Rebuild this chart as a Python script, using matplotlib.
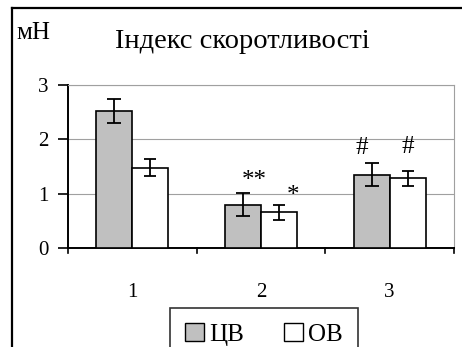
import matplotlib
matplotlib.use("Agg")
import matplotlib.pyplot as plt
import numpy as np
from matplotlib.lines import Line2D
from matplotlib.patches import Patch

plt.rcParams['font.family'] = ['Liberation Serif', 'DejaVu Serif']

categories = ["1", "2", "3"]
cv_values = [2.52, 0.80, 1.35]
cv_errors = [0.22, 0.21, 0.21]
ov_values = [1.48, 0.66, 1.28]
ov_errors = [0.15, 0.14, 0.13]
cv_marks = ["", "**", "#"]
ov_marks = ["", "*", "#"]
series_names = ["ЦВ", "ОВ"]
title = "Індекс скоротливості"
unit = "мН"

W, H = 462, 347
fig = plt.figure(figsize=(W / 100, H / 100), dpi=100)
ax = fig.add_axes([68 / W, 1 - 248 / H, (454 - 68) / W, (248 - 85) / H])

x = np.arange(len(categories))
bw = 0.28
ax.bar(x - bw / 2, cv_values, bw, color="#c0c0c0", edgecolor="black", linewidth=1.2, zorder=3,
       yerr=cv_errors, error_kw=dict(ecolor="black", elinewidth=1.3, capsize=5, capthick=1.3))
ax.bar(x + bw / 2, ov_values, bw, color="white", edgecolor="black", linewidth=1.2, zorder=3,
       yerr=ov_errors, error_kw=dict(ecolor="black", elinewidth=1.3, capsize=4, capthick=1.3))

# annotation offsets (x in category units, y in data units above the error bar)
cv_off = {"**": (0.085, 0.23), "#": (-0.08, 0.28)}
ov_off = {"*": (0.11, 0.16), "#": (0.0, 0.44)}
for i in range(len(categories)):
    if cv_marks[i]:
        dx, dy = cv_off[cv_marks[i]]
        ax.text(x[i] - bw / 2 + dx, cv_values[i] + cv_errors[i] + dy, cv_marks[i], ha="center",
                va="center", fontsize=18, zorder=4)
    if ov_marks[i]:
        dx, dy = ov_off[ov_marks[i]]
        ax.text(x[i] + bw / 2 + dx, ov_values[i] + ov_errors[i] + dy, ov_marks[i], ha="center",
                va="center", fontsize=18, zorder=4)

ax.set_xlim(-0.5, len(categories) - 0.5)
ax.set_ylim(0, 3)
ax.set_yticks([0, 1, 2, 3])
ax.yaxis.grid(True, color="#a0a0a0", linewidth=0.8, zorder=0)
ax.set_axisbelow(True)
ax.set_xticks(x)
ax.set_xticklabels(categories, fontsize=15)
ax.tick_params(axis="x", length=0, pad=25)
# boundary ticks on x axis
for b in np.arange(-0.5, len(categories), 1.0):
    ax.plot([b, b], [0, -0.1], color="black", lw=1.2, clip_on=False, zorder=5)
ax.tick_params(axis="y", labelsize=15, length=7, width=1.2, pad=7, direction="out")
for s in ["left", "bottom"]:
    ax.spines[s].set_linewidth(1.4)
    ax.spines[s].set_color("black")
for s in ["top", "right"]:
    ax.spines[s].set_color("#a0a0a0")
    ax.spines[s].set_linewidth(0.8)

fig.text(242 / W, 1 - 42 / H, title, ha="center", va="center", fontsize=20.5)
fig.text(16 / W, 1 - 33 / H, unit, ha="left", va="center", fontsize=18)

# outer frame (left and top edges)
fig.add_artist(Line2D([12 / W, 12 / W], [0, 1 - 8 / H], transform=fig.transFigure, color="black", lw=1.6))
fig.add_artist(Line2D([12 / W, 1], [1 - 8 / H, 1 - 8 / H], transform=fig.transFigure, color="black", lw=1.6))

handles = [Patch(facecolor="#c0c0c0", edgecolor="black"), Patch(facecolor="white", edgecolor="black")]
leg = fig.legend(handles, series_names, loc="upper center", bbox_to_anchor=(264 / W, 1 - 308 / H),
                 ncol=2, fontsize=18, frameon=True, fancybox=False, edgecolor="black",
                 handlelength=0.75, handleheight=0.75, handletextpad=0.2, columnspacing=1.6,
                 borderpad=0.6, borderaxespad=0)
leg.get_frame().set_linewidth(1.2)

fig.savefig("out.png", dpi=100, facecolor="white")
